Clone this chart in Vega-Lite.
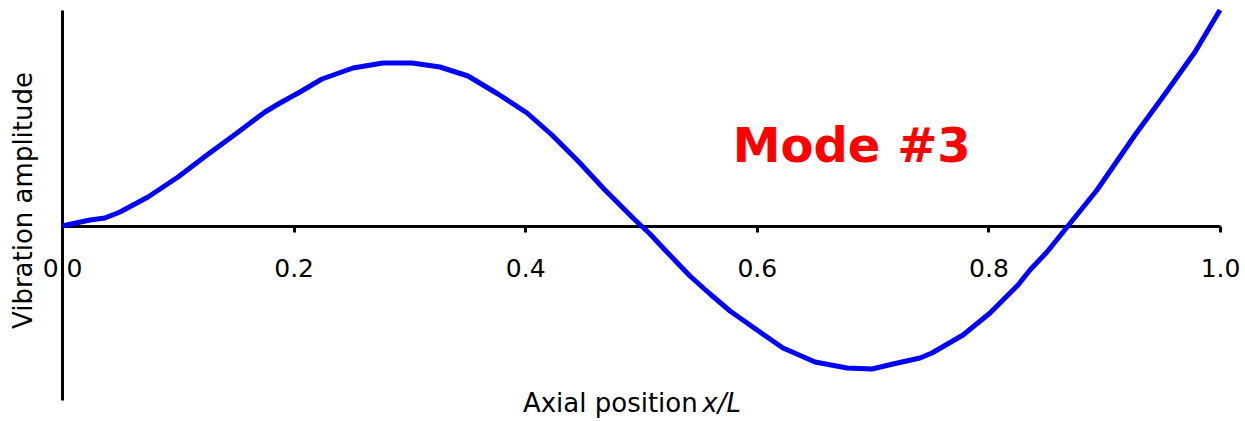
{
  "$schema": "https://vega.github.io/schema/vega-lite/v6.json",
  "width": 1158,
  "height": 390,
  "autosize": "none",
  "padding": {"left": 62, "top": 10, "right": 25, "bottom": 21},
  "background": "white",
  "config": {"view": {"stroke": null}, "font": "DejaVu Sans"},
  "layer": [
    {
      "data": {"values": [
        {"x": 0.000, "amp": 0},
        {"x": 0.0242, "amp": 6},
        {"x": 0.0371, "amp": 8},
        {"x": 0.0501, "amp": 14},
        {"x": 0.0743, "amp": 29},
        {"x": 0.1002, "amp": 49},
        {"x": 0.1252, "amp": 71},
        {"x": 0.1511, "amp": 93},
        {"x": 0.1753, "amp": 114},
        {"x": 0.1883, "amp": 123},
        {"x": 0.2055, "amp": 134},
        {"x": 0.2245, "amp": 147},
        {"x": 0.2513, "amp": 158},
        {"x": 0.2772, "amp": 163},
        {"x": 0.3022, "amp": 163},
        {"x": 0.3264, "amp": 159},
        {"x": 0.3506, "amp": 150},
        {"x": 0.3765, "amp": 132},
        {"x": 0.4016, "amp": 113},
        {"x": 0.4231, "amp": 91},
        {"x": 0.4456, "amp": 65},
        {"x": 0.4689, "amp": 36},
        {"x": 0.4931, "amp": 8},
        {"x": 0.5078, "amp": -8},
        {"x": 0.5207, "amp": -24},
        {"x": 0.5423, "amp": -50},
        {"x": 0.5596, "amp": -68},
        {"x": 0.5769, "amp": -85},
        {"x": 0.6002, "amp": -104},
        {"x": 0.6226, "amp": -122},
        {"x": 0.6503, "amp": -136},
        {"x": 0.6779, "amp": -142},
        {"x": 0.6995, "amp": -143},
        {"x": 0.7176, "amp": -138},
        {"x": 0.7409, "amp": -132},
        {"x": 0.7513, "amp": -127},
        {"x": 0.7781, "amp": -109},
        {"x": 0.8014, "amp": -87},
        {"x": 0.8256, "amp": -59},
        {"x": 0.8359, "amp": -44},
        {"x": 0.8506, "amp": -26},
        {"x": 0.8687, "amp": 0},
        {"x": 0.8938, "amp": 36},
        {"x": 0.9266, "amp": 91},
        {"x": 0.9525, "amp": 132},
        {"x": 0.9784, "amp": 174},
        {"x": 1.0, "amp": 216}
      ]},
      "mark": {"type": "line", "color": "#0000FF", "strokeWidth": 5, "strokeJoin": "round"},
      "encoding": {
        "x": {
          "field": "x", "type": "quantitative",
          "scale": {"domain": [0, 1], "nice": false},
          "axis": {
            "title": null, "offset": -174, "grid": false,
            "values": [0, 0.2, 0.4, 0.6, 0.8, 1.0], "format": ".1f",
            "domainColor": "black", "domainWidth": 3,
            "tickColor": "black", "tickWidth": 3, "tickSize": 6,
            "labelFontSize": 25, "labelColor": "black", "labelPadding": 24,
            "labelFlush": false, "labelOverlap": false
          }
        },
        "y": {
          "field": "amp", "type": "quantitative",
          "scale": {"domain": [-174, 216], "nice": false, "zero": false},
          "axis": {
            "title": "Vibration amplitude", "grid": false,
            "ticks": false, "labels": false,
            "domainColor": "black", "domainWidth": 3,
            "titleFontSize": 26, "titleFontWeight": "normal", "titleColor": "black",
            "titlePadding": 26, "titleY": 190
          }
        }
      }
    },
    {
      "data": {"values": [{"x": 0.682, "amp": 64, "label": "Mode #3"}]},
      "mark": {"type": "text", "color": "#FF0000", "fontSize": 48, "fontWeight": "bold", "align": "center", "baseline": "alphabetic"},
      "encoding": {
        "x": {"field": "x", "type": "quantitative"},
        "y": {"field": "amp", "type": "quantitative"},
        "text": {"field": "label"}
      }
    },
    {
      "data": {"values": [{"x": 0.549, "amp": -186, "label": "Axial position"}]},
      "mark": {"type": "text", "color": "black", "fontSize": 26, "align": "right", "baseline": "alphabetic"},
      "encoding": {
        "x": {"field": "x", "type": "quantitative"},
        "y": {"field": "amp", "type": "quantitative"},
        "text": {"field": "label"}
      }
    },
    {
      "data": {"values": [{"x": 0.553, "amp": -186, "label": "x/L"}]},
      "mark": {"type": "text", "color": "black", "fontSize": 26, "fontStyle": "italic", "align": "left", "baseline": "alphabetic"},
      "encoding": {
        "x": {"field": "x", "type": "quantitative"},
        "y": {"field": "amp", "type": "quantitative"},
        "text": {"field": "label"}
      }
    }
  ]
}
